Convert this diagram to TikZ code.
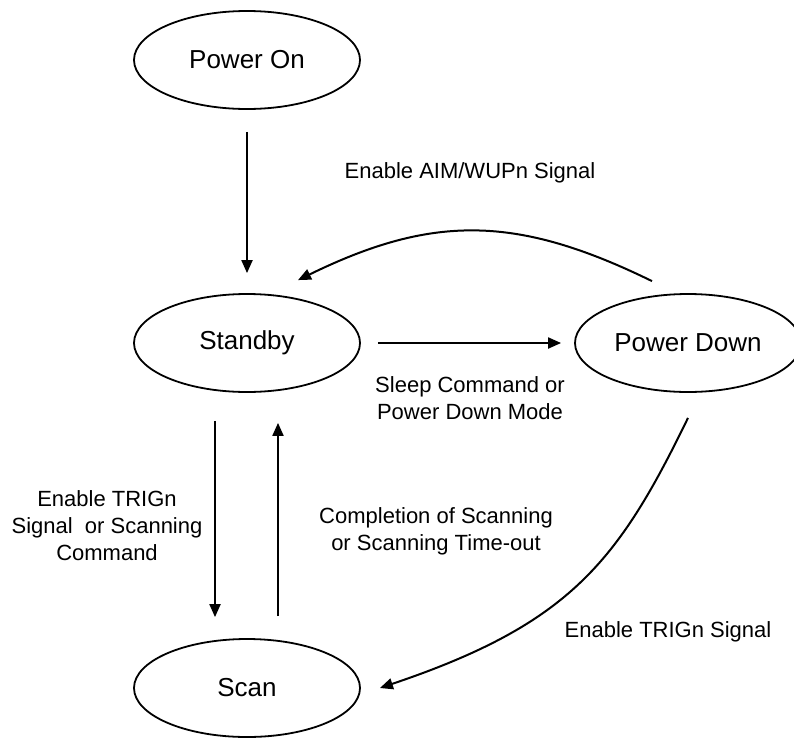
\documentclass[tikz,border=0pt]{standalone}
\usepackage{fontspec}
\setmainfont{Liberation Sans}
\usetikzlibrary{shapes.geometric,arrows.meta,calc}

\tikzset{
	state/.style={ellipse, draw, line width=1.8pt, minimum width=226pt, minimum height=98pt, inner sep=0pt, font=\fontsize{26}{31}\selectfont},
	lbl/.style={align=center, font=\fontsize{22}{27}\selectfont},
	arr/.style={-{Triangle[length=13pt,width=11pt]}, line width=2pt}
}

\begin{document}
\begin{tikzpicture}[x=1pt, y=-1pt]
	\useasboundingbox (0,0) rectangle (794,739);
	
	\node[state] (pon) at (247,60) {Power On};
	\node[state] (stby) at (247,343) {Standby};
	\node[state] (pdown) at (688,343) {Power Down};
	\node[state] (scan) at (247,688) {Scan};
	
	\draw[arr, shorten <=22pt, shorten >=20pt] (pon.south) -- (stby.north);
	\node[lbl] (l-aim) at (470,173) {Enable AIM/WUPn Signal};
	
	\draw[arr] ($(pdown.north)+(-36,-12)$) .. controls +(-135,-66) and +(135,-66) .. ($(stby.north)+(51,-13)$);
	
	\draw[arr, shorten <=17pt, shorten >=13pt] (stby.east) -- (pdown.west);
	\node[lbl] (l-sleep) at (470,398) {Sleep Command or\\Power Down Mode};
	
	\draw[arr, shorten <=28pt, shorten >=21pt] ([xshift=-32pt]stby.south) -- ([xshift=-32pt]scan.north);
	\node[lbl] (l-trig) at (107,526) {Enable TRIGn\\Signal\ \ or Scanning\\Command};
	
	\draw[arr, shorten <=22pt, shorten >=30pt] ([xshift=31pt]scan.north) -- ([xshift=31pt]stby.south);
	\node[lbl] (l-done) at (436,531) {Completion of Scanning\\or Scanning Time-out};
	
	\draw[arr] ($(pdown.south)+(0,25)$) .. controls +(-70,144) and +(190,-64) .. ($(scan.east)+(19,0)$);
	\node[lbl] (l-trig2) at (668,632) {Enable TRIGn Signal};
\end{tikzpicture}
\end{document}
